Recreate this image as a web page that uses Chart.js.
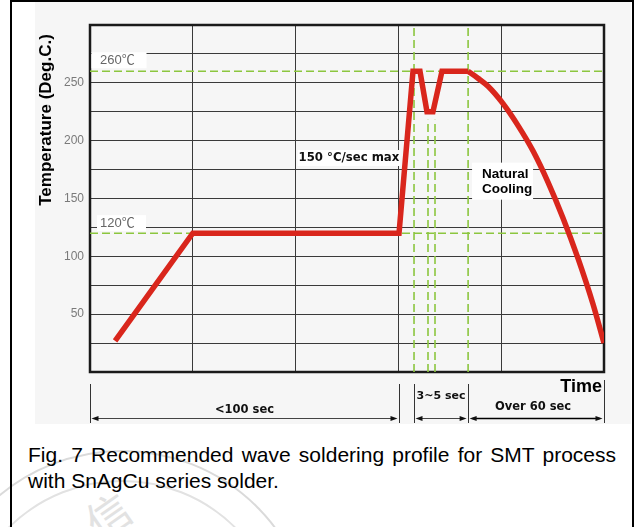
<!DOCTYPE html>
<html><head><meta charset="utf-8">
<script src="https://cdn.jsdelivr.net/npm/chart.js@4.4.1/dist/chart.umd.min.js"></script>
<style>
html,body{margin:0;padding:0;background:#fff;width:635px;height:527px;overflow:hidden;}
#panel{position:absolute;left:35px;top:2px;width:596px;height:422px;background:#f6f6f6;}
#wrap{position:absolute;left:0;top:0;width:635px;height:440px;}
#seal1{position:absolute;left:-70px;top:450px;width:380px;height:380px;border:2px solid #dadada;border-radius:50%;}
#seal2{position:absolute;left:-40px;top:480px;width:320px;height:320px;border:2px solid #e2e2e2;border-radius:50%;}
#sealch{position:absolute;left:85px;top:482px;font:44px "Noto Sans CJK TC",sans-serif;color:#e2e2e2;transform:rotate(-35deg);}
#caption{position:absolute;left:28px;top:442px;width:588px;font:21px "Liberation Sans",Arial,sans-serif;line-height:26px;text-align:justify;color:#000;}
#frame{position:absolute;left:10px;top:0;width:620px;height:560px;border:2px solid #000;border-bottom:none;}
</style></head>
<body>
<div id="panel"></div>
<div id="seal1"></div><div id="seal2"></div><div id="sealch">信</div>
<div id="wrap"><canvas id="c" width="635" height="440"></canvas></div>
<div id="caption">Fig. 7 Recommended wave soldering profile for SMT process with SnAgCu series solder.</div>
<div id="frame"></div>
<script>
// ---- data (time in seconds scale, temperature in deg C) ----
const profileTime = [12.2, 50, 150.3, 157.1, 160.5, 163.9, 166.8, 171.2, 183.9];
const profileTemp = [27, 120, 120, 260, 260, 225, 225, 260, 260];
const coolingTime = [183.9, 188.7, 193.6, 200.9, 208.2, 215.5, 222.8, 230.1, 237.4, 244.6, 250];
const coolingTemp = [260, 254, 247, 232, 213, 191, 164, 133, 98, 59, 25];
const refTemps = [260, 120];
const refTempLabels = ['260℃', '120℃'];
const markerTimes = [157.6, 164.4, 167.8, 183.9];
const markerTops = [300, 218, 218, 300];
const spanEdges = [0, 150.3, 157.6, 183.9, 250];
const spanLabels = ['<100 sec', '3~5 sec', 'Over 60 sec'];
const yTickValues = [50, 100, 150, 200, 250];

const RED = '#d9261c', GREEN = '#8cc63f';
const toPts = (xs, ys) => xs.map((x, i) => ({x, y: ys[i]}));

const datasets = [
  {data: toPts(profileTime, profileTemp), borderColor: RED, borderWidth: 5.5, tension: 0, borderJoinStyle: 'miter', borderCapStyle: 'butt', pointRadius: 0},
  {data: toPts(coolingTime, coolingTemp), borderColor: RED, borderWidth: 5.5, cubicInterpolationMode: 'monotone', borderCapStyle: 'butt', pointRadius: 0},
];
refTemps.forEach(t => datasets.push({data: [{x: 0, y: t}, {x: 250, y: t}], borderColor: GREEN, borderWidth: 1.6, borderDash: [8, 4], pointRadius: 0}));
markerTimes.forEach((m, i) => datasets.push({data: [{x: m, y: 0}, {x: m, y: markerTops[i]}], borderColor: GREEN, borderWidth: 1.6, borderDash: [8, 4], pointRadius: 0}));

const decor = {
  id: 'decor',
  beforeDatasetsDraw(chart) {
    const {ctx, chartArea: a, scales: {x, y}} = chart;
    ctx.save();
    ctx.strokeStyle = '#1a1a1a'; ctx.lineWidth = 2.5;
    ctx.strokeRect(a.left, a.top, a.right - a.left, a.bottom - a.top);
    ctx.textBaseline = 'middle';
    ctx.font = '13px "Liberation Sans", "Noto Sans CJK SC", sans-serif';
    refTemps.forEach((t, i) => {
      const yy = y.getPixelForValue(t) - (i === 0 ? 11 : 10);
      ctx.fillStyle = '#ffffff';
      ctx.fillRect(a.left + (i === 0 ? 1.5 : 7), yy - 8, 55 - (i === 0 ? 0 : 6), 16);
      ctx.fillStyle = '#666';
      ctx.textAlign = 'left';
      ctx.fillText(refTempLabels[i], a.left + 10, yy);
    });
    ctx.font = 'bold 11.7px "DejaVu Sans", sans-serif';
    const rx = x.getPixelForValue(100) + 2, ry = y.getPixelForValue(185);
    const rw = ctx.measureText('150 °C/sec max').width;
    ctx.fillStyle = '#fff'; ctx.fillRect(rx, ry - 8, rw + 2, 16);
    ctx.fillStyle = '#111'; ctx.fillText('150 °C/sec max', rx + 1, ry);
    const nx = x.getPixelForValue(190.7);
    ctx.fillStyle = '#fff'; ctx.fillRect(nx - 10, y.getPixelForValue(181), 61, 37);
    ctx.fillStyle = '#000'; ctx.font = 'bold 13.5px "Liberation Sans", Arial, sans-serif';
    ctx.fillText('Natural', nx, y.getPixelForValue(171));
    ctx.fillText('Cooling', nx, y.getPixelForValue(158));
    ctx.restore();
  },
  afterDraw(chart) {
    const {ctx, chartArea: a, scales: {x}} = chart;
    ctx.save();
    ctx.translate(46, 120); ctx.rotate(-Math.PI / 2);
    ctx.fillStyle = '#000'; ctx.font = 'bold 17px "Liberation Sans", Arial, sans-serif';
    ctx.textAlign = 'center'; ctx.textBaseline = 'middle';
    ctx.fillText('Temperature (Deg.C.)', 0, 0);
    ctx.restore();
    ctx.save();
    const b = a.bottom;
    ctx.fillStyle = '#000'; ctx.font = 'bold 18px "Liberation Sans", Arial, sans-serif';
    ctx.textAlign = 'right'; ctx.textBaseline = 'alphabetic';
    ctx.fillText('Time', a.right - 2, b + 20);
    ctx.strokeStyle = '#333'; ctx.lineWidth = 1;
    spanEdges.forEach((e, i) => {
      const ex = Math.round(x.getPixelForValue(e)) + 0.5;
      ctx.beginPath(); ctx.moveTo(ex, b + (i === spanEdges.length - 1 ? 8 : 12)); ctx.lineTo(ex, b + 51); ctx.stroke();
    });
    const head = (hx, hy, dir) => { ctx.beginPath(); ctx.moveTo(hx, hy); ctx.lineTo(hx + dir * 7, hy - 2.5); ctx.lineTo(hx + dir * 7, hy + 2.5); ctx.closePath(); ctx.fill(); };
    const segs = [[0, 1], [2, 3], [3, 4]];
    const labelOff = [38, 24, 35];
    const fonts = ['bold 11.5px "DejaVu Sans", sans-serif', 'bold 11px "DejaVu Sans", sans-serif', 'bold 11.5px "DejaVu Sans", sans-serif'];
    ctx.fillStyle = '#111';
    segs.forEach(([s, e], i) => {
      const x1 = x.getPixelForValue(spanEdges[s]) + 1.5, x2 = x.getPixelForValue(spanEdges[e]) - 1.5;
      const ay = b + 46.5;
      ctx.lineWidth = i === 2 ? 1.6 : 1;
      ctx.strokeStyle = i === 2 ? '#000' : '#444';
      ctx.beginPath(); ctx.moveTo(x1 + 3, ay); ctx.lineTo(x2 - 3, ay); ctx.stroke();
      head(x1, ay, 1); head(x2, ay, -1);
      ctx.font = fonts[i]; ctx.textAlign = 'center'; ctx.textBaseline = 'middle';
      ctx.fillText(spanLabels[i], (x1 + x2) / 2 + (i === 2 ? -3 : 0), b + labelOff[i]);
    });
    ctx.restore();
  }
};

Chart.defaults.font.family = '"Liberation Sans", Arial, sans-serif';
new Chart(document.getElementById('c'), {
  type: 'line',
  data: {datasets},
  options: {
    responsive: false, animation: false, devicePixelRatio: 1,
    layout: {padding: {top: 25, right: 31, left: 0, bottom: 0}},
    plugins: {legend: {display: false}, tooltip: {enabled: false}},
    scales: {
      x: {type: 'linear', min: 0, max: 250,
        ticks: {display: false, stepSize: 50},
        grid: {color: '#3a3a3a', lineWidth: 1, drawTicks: false},
        border: {display: false},
        afterFit: s => { s.height = 68; }},
      y: {type: 'linear', min: 0, max: 300,
        ticks: {stepSize: 25, padding: 6, color: '#7a7a7a', font: {size: 12},
          callback: v => yTickValues.includes(v) ? String(v) : ''},
        grid: {color: '#3a3a3a', lineWidth: 1, drawTicks: false},
        border: {display: false},
        afterFit: s => { s.width = 90; }}
    }
  },
  plugins: [decor]
});
</script>
</body></html>
